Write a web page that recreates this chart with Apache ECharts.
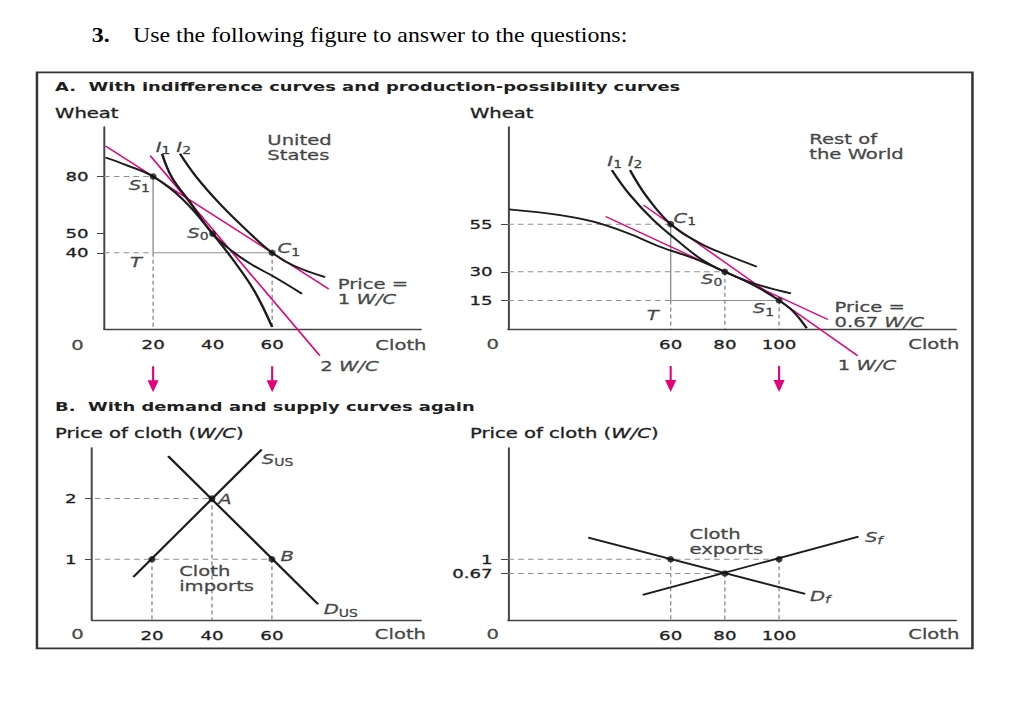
<!DOCTYPE html>
<html><head><meta charset="utf-8">
<script src="https://cdn.jsdelivr.net/npm/echarts@6/dist/echarts.min.js"></script>
<style>
html,body{margin:0;padding:0;background:#fff;overflow:hidden}
#wrap{width:1036px;height:727px;overflow:hidden;background:#fff}
#main{width:740px;height:727px;transform:scaleX(1.4);transform-origin:0 0}
</style>
</head><body><div id="wrap"><div id="main"></div></div>
<script>
// ================= DATA =================
// Panel A, United States (Cloth, Wheat)
const usPPF   = [[4,90],[11,86],[20,80],[30,68],[40,50],[47,36],[54,20],[60,1]];
const usI1    = [[23,92],[26.3,79.6],[32.4,66.5],[40,50],[47,40.3],[53.7,33.3],[60.4,27.6],[70,18.5]];
const usI2    = [[29,92],[34.6,79.6],[42.4,65.7],[51.5,51.7],[60,40],[67.1,33.3],[77.8,27.2]];
const usPrice1W = [[4,96],[79,21]];      // Price = 1 W/C
const usPrice2W = [[19,91],[76,-14]];    // 2 W/C
const usS1 = [20,80], usS0 = [40,50], usC1 = [60,40];
const usWheatTicks = [40,50,80];
const usClothTicks = [20,40,60];

// Panel A, Rest of the World
const rowPPF  = [[0.4,62.8],[19.2,59.8],[31.5,56.3],[43.8,50.5],[56.1,43.2],[68.4,37.1],[80,30],[90.5,23.1],[100,15],[105.3,9.1],[110.2,0.4]];
const rowI1   = [[38.3,83.4],[45,70.3],[53.6,57.2],[62.2,46.7],[70.8,37.1],[80,30],[90.5,24],[104.4,18.7]];
const rowI2   = [[45,83.4],[51.2,69.4],[60,55],[70.8,45],[80.7,38.8],[91.8,32.7]];
const rowPrice067W = [[36,59],[118,5]];  // Price = 0.67 W/C
const rowPrice1W   = [[50,65],[129,-14]]; // 1 W/C
const rowC1 = [60,55], rowS0 = [80,30], rowS1 = [100,15];
const rowWheatTicks = [15,30,55];
const rowClothTicks = [60,80,100];

// Panel B, United States
const usSupply = [[13.8,0.71],[56.6,2.81]];
const usDemand = [[25.4,2.7],[75.4,0.26]];
const usA = [40,2], usQ20 = [20,1], usB = [60,1];
const usPriceTicks = [1,2];
const usBClothTicks = [20,40,60];

// Panel B, Rest of the World
const rowSupply = [[49.7,0.18],[129.3,1.52]];
const rowDemand = [[29.6,1.5],[109.6,0.2]];
const rowP60 = [60,1], rowP80 = [80,0.67], rowP100 = [100,1];
const rowPriceTicks = [0.67,1];
const rowBClothTicks = [60,80,100];

// Arrow positions (cloth quantities carried down from panel A)
const usArrowCloth = [20,60];
const rowArrowCloth = [60,100];

// ================= STYLE / LAYOUT =================
const FONT = 'DejaVu Sans';
const INK = '#1e1e1e';
const PINK = '#e3007b';
const CURVE = '#1c1c1c';
const GUIDE = '#8f8f8f';
const AXIS = '#444';
const TB = 0.3; // slight text weight

const grids = [
  {left:74.3,  top:127, width:226.4, height:202},
  {left:362.9, top:127, width:320,   height:202},
  {left:65.7,  top:448, width:235,   height:172},
  {left:362.9, top:448, width:320,   height:172}
];
const xRange = [[3.5,110],[0,165.3],[0,109.7],[0,165.3]];
const yRange = [[0,106],[0,106],[0,2.834],[-0.4,3.563]];
const xTicks = [usClothTicks,rowClothTicks,usBClothTicks,rowBClothTicks];
const yTicks = [usWheatTicks,rowWheatTicks,usPriceTicks,rowPriceTicks];

const tb = {textBorderColor:INK, textBorderWidth:TB};
const rich = {
  i:  Object.assign({fontFamily:FONT, fontSize:14, fontStyle:'italic', color:INK}, tb),
  s:  Object.assign({fontFamily:FONT, fontSize:10, color:INK, padding:[8,0,0,0]}, tb),
  si: Object.assign({fontFamily:FONT, fontSize:10, fontStyle:'italic', color:INK, padding:[8,0,0,0]}, tb)
};
const richG = {
  i: {fontFamily:FONT, fontSize:14, fontStyle:'italic', fill:INK, stroke:INK, lineWidth:TB}
};

const series = [];
function curve(g, data, color, width, opts) {
  series.push(Object.assign({
    type:'line', xAxisIndex:g, yAxisIndex:g, data:data,
    symbol:'none', showSymbol:false, clip:false, silent:true, animation:false,
    lineStyle:{color:color, width:width}, z:3
  }, opts || {}));
}
function guide(g, a, b, dashed) {
  curve(g, [a,b], GUIDE, 1, {lineStyle:{color:GUIDE, width:1, type: dashed ? [4,3] : 'solid'}, z:1});
}
function dots(g, pts) {
  series.push({type:'scatter', xAxisIndex:g, yAxisIndex:g, data:pts, symbol:'circle',
    symbolSize:[5,6.5], itemStyle:{color:'#111'}, silent:true, animation:false, z:6});
}
function arrow(g, x, y0, y1) {
  series.push({type:'line', xAxisIndex:g, yAxisIndex:g, clip:false, silent:true, animation:false,
    showSymbol:true, lineStyle:{color:PINK, width:1.5}, itemStyle:{color:PINK}, z:5,
    data:[{value:[x,y0], symbol:'none'},
          {value:[x,y1], symbol:'triangle', symbolRotate:180, symbolSize:[8,12]}]});
}
function labels(g, list) {
  series.push({type:'scatter', xAxisIndex:g, yAxisIndex:g, clip:false, silent:true, animation:false,
    symbolSize:1, itemStyle:{color:'rgba(0,0,0,0)'}, z:8,
    data:list.map(l => ({value:l[0], label:Object.assign({show:true, position:[0,0], formatter:l[1],
      align:l[2] || 'center', verticalAlign:'middle', fontFamily:FONT, fontSize:14, color:INK,
      lineHeight:15, rich:rich}, tb)}))});
}

// ---- Panel A: United States ----
const usT = [usS1[0], usC1[1]];
guide(0, [xRange[0][0], usS1[1]], usS1, true);
guide(0, usS1, usT, false);
guide(0, [xRange[0][0], usT[1]], usT, true);
guide(0, usT, usC1, false);
guide(0, usT, [usT[0], 0], true);
guide(0, usC1, [usC1[0], 0], true);
curve(0, usPrice1W, PINK, 1.3);
curve(0, usPrice2W, PINK, 1.3);
curve(0, usPPF, CURVE, 1.8, {smooth:0.4});
curve(0, usI1, CURVE, 1.8, {smooth:0.4});
curve(0, usI2, CURVE, 1.8, {smooth:0.4});
dots(0, [usS1, usS0, usC1]);
labels(0, [
  [[23.6,95.4], '{i|I}{s|1}'],
  [[30.5,95.4], '{i|I}{s|2}'],
  [[58.6,94.9], 'United\nStates', 'left'],
  [[15.6,75.3], '{i|S}{s|1}'],
  [[35.3,50.3], '{i|S}{s|0}'],
  [[65.8,42.1], '{i|C}{s|1}'],
  [[14.5,35.1], '{i|T}'],
  [[82.3,19.5], 'Price =\n1 {i|W/C}', 'left'],
  [[76.4,-19.7], '2 {i|W/C}', 'left'],
  [[112.1,-8.6], 'Cloth', 'right'],
  [[-5.2,-8.6], '0']
]);
usArrowCloth.forEach(x => arrow(0, x, -19.6, -30.1));

// ---- Panel A: Rest of the World ----
const rowT = [rowC1[0], rowS1[1]];
guide(1, [0, rowC1[1]], rowC1, true);
guide(1, rowC1, rowT, false);
guide(1, [0, rowT[1]], rowT, true);
guide(1, rowT, rowS1, false);
guide(1, rowT, [rowT[0], 0], true);
guide(1, [0, rowS0[1]], rowS0, true);
guide(1, rowS0, [rowS0[0], 0], true);
guide(1, rowS1, [rowS1[0], 0], true);
curve(1, rowPrice067W, PINK, 1.3);
curve(1, rowPrice1W, PINK, 1.3);
curve(1, rowPPF, CURVE, 1.8, {smooth:0.4});
curve(1, rowI1, CURVE, 1.8, {smooth:0.4});
curve(1, rowI2, CURVE, 1.8, {smooth:0.4});
dots(1, [rowC1, rowS0, rowS1]);
labels(1, [
  [[39.6,87.8], '{i|I}{s|1}'],
  [[47.1,87.8], '{i|I}{s|2}'],
  [[111.4,95.5], 'Rest of\nthe World', 'left'],
  [[65.5,57.9], '{i|C}{s|1}'],
  [[75.4,26.1], '{i|S}{s|0}'],
  [[94.5,10.5], '{i|S}{s|1}'],
  [[53.6,7.3], '{i|T}'],
  [[120.7,7.3], 'Price =\n0.67 {i|W/C}', 'left'],
  [[121.9,-19.4], '1 {i|W/C}', 'left'],
  [[166.8,-8.4], 'Cloth', 'right'],
  [[-5.4,-8.4], '0']
]);
rowArrowCloth.forEach(x => arrow(1, x, -19.4, -29.9));

// ---- Panel B: United States ----
guide(2, [-2.3, usA[1]], usA, true);
guide(2, usA, [usA[0], 0], true);
guide(2, [-2.3, usB[1]], usB, true);
guide(2, usQ20, [usQ20[0], 0], true);
guide(2, usB, [usB[0], 0], true);
curve(2, usSupply, CURVE, 1.8);
curve(2, usDemand, CURVE, 1.8);
dots(2, [usA, usQ20, usB]);
labels(2, [
  [[62.1,2.65], '{i|S}{s|US}'],
  [[44.6,1.99], '{i|A}'],
  [[65.3,1.04], '{i|B}'],
  [[29.3,0.672], 'Cloth\nimports', 'left'],
  [[83.2,0.165], '{i|D}{s|US}'],
  [[111.6,-0.247], 'Cloth', 'right'],
  [[-4.6,-0.247], '0']
]);

// ---- Panel B: Rest of the World ----
const yb = yRange[3][0];
guide(3, [-3.5, rowP100[1]], rowP100, true);
guide(3, [-3.5, rowP80[1]], rowP80, true);
guide(3, rowP60, [rowP60[0], yb], true);
guide(3, rowP80, [rowP80[0], yb], true);
guide(3, rowP100, [rowP100[0], yb], true);
curve(3, rowSupply, CURVE, 1.8);
curve(3, rowDemand, CURVE, 1.8);
dots(3, [rowP60, rowP80, rowP100]);
labels(3, [
  [[67.2,1.386], 'Cloth\nexports', 'left'],
  [[135.2,1.505], '{i|S}{si|f}'],
  [[115.4,0.137], '{i|D}{si|f}'],
  [[166.8,-0.746], 'Cloth', 'right'],
  [[-5.4,-0.746], '0']
]);

// ---- axes ----
const axLabel = {fontFamily:FONT, fontSize:13, color:INK, textBorderColor:INK, textBorderWidth:TB};
const xAxis = grids.map((g,i) => ({
  type:'value', gridIndex:i, min:xRange[i][0], max:xRange[i][1],
  axisLine:{onZero:false, lineStyle:{color:AXIS, width:1.4}},
  axisTick:{show:false}, splitLine:{show:false},
  axisLabel:Object.assign({customValues:xTicks[i], margin:9}, axLabel)
}));
const yAxis = grids.map((g,i) => ({
  type:'value', gridIndex:i, min:yRange[i][0], max:yRange[i][1],
  axisLine:{onZero:false, lineStyle:{color:AXIS, width:1.4}},
  axisTick:{show:true, customValues:yTicks[i], length:5, lineStyle:{color:AXIS, width:1}},
  splitLine:{show:false},
  axisLabel:Object.assign({customValues:yTicks[i], margin:11}, axLabel)
}));

// ---- headings ----
const TS = 1.11 / 1.4;
const txt = (extra) => Object.assign({fontFamily:FONT, fontSize:14, fill:INK, verticalAlign:'middle', stroke:INK, lineWidth:TB, rich:richG}, extra);
const graphic = [
  {type:'rect', shape:{x:26.4, y:72.3, width:668.2, height:576}, style:{fill:'none', stroke:'#333', lineWidth:1.8}, z:0},
  {type:'text', x:65.5, y:35, scaleX:TS, style:{text:'3.', fontFamily:'Liberation Serif', fontWeight:'bold', fontSize:21.5, fill:'#000', verticalAlign:'middle'}},
  {type:'text', x:95, y:35, scaleX:TS, style:{text:'Use the following figure to answer to the questions:', fontFamily:'Liberation Serif', fontSize:21.5, fill:'#000', verticalAlign:'middle'}},
  {type:'text', x:39.3, y:87, style:{text:'A.  With indifference curves and production-possibility curves', fontFamily:FONT, fontWeight:'bold', fontSize:12.8, fill:INK, verticalAlign:'middle'}},
  {type:'text', x:39.3, y:113, style:txt({text:'Wheat'})},
  {type:'text', x:335.7, y:113, style:txt({text:'Wheat'})},
  {type:'text', x:39.3, y:407, style:{text:'B.  With demand and supply curves again', fontFamily:FONT, fontWeight:'bold', fontSize:12.8, fill:INK, verticalAlign:'middle'}},
  {type:'text', x:39.3, y:433, style:txt({text:'Price of cloth ({i|W/C})'})},
  {type:'text', x:335.7, y:433, style:txt({text:'Price of cloth ({i|W/C})'})}
];

const chart = echarts.init(document.getElementById('main'), null, {renderer:'svg'});
chart.setOption({
  animation:false,
  backgroundColor:'#fff',
  textStyle:{fontFamily:FONT},
  grid:grids,
  xAxis:xAxis,
  yAxis:yAxis,
  series:series,
  graphic:graphic
});
</script>
</body></html>
